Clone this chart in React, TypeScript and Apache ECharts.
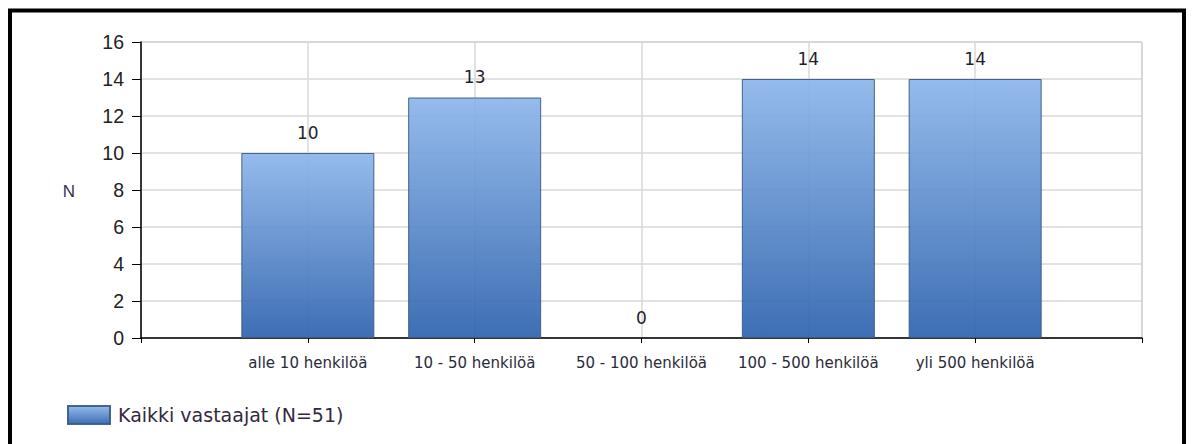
import React, { useEffect, useRef } from "react";
import * as echarts from "echarts";

const categories = ["", "alle 10 henkilöä", "10 - 50 henkilöä", "50 - 100 henkilöä", "100 - 500 henkilöä", "yli 500 henkilöä", ""];
const values: (number | null)[] = [null, 10, 13, 0, 14, 14, null];
const seriesName = "Kaikki vastaajat (N=51)";
const yAxisTitle = "N";

export default function App() {
  const ref = useRef<HTMLDivElement>(null);
  useEffect(() => {
    if (!ref.current) return;
    const chart = echarts.init(ref.current, undefined, { renderer: "svg" });
    const grad = new echarts.graphic.LinearGradient(0, 0, 0, 1, [
      { offset: 0, color: "#8db6ea" },
      { offset: 1, color: "#2f63ae" },
    ]);
    const barData = values.map((v) =>
      v === 0 ? { value: v, itemStyle: { borderWidth: 0, opacity: 0 } } : v
    );
    chart.setOption({
      animation: false,
      backgroundColor: "#ffffff",
      grid: {
        left: 141,
        right: 50,
        top: 42,
        bottom: 106,
        show: true,
        borderColor: "#a3b0c2",
        borderWidth: 1,
      },
      legend: {
        left: 62,
        top: 400,
        icon: "rect",
        itemWidth: 42,
        itemHeight: 18,
        itemGap: 8,
        textStyle: {
          fontFamily: "DejaVu Sans",
          fontSize: 19,
          color: "#33293f",
          padding: [0, 0, 0, 3],
        },
        data: [seriesName],
      },
      graphic: [
        {
          type: "rect",
          shape: { x: 10, y: 10.5, width: 1174, height: 520 },
          style: { fill: "none", stroke: "#000000", lineWidth: 4 },
          silent: true,
        },
        {
          type: "text",
          x: 69,
          y: 191,
          style: {
            text: yAxisTitle,
            fontFamily: "Liberation Sans",
            fontSize: 17,
            fill: "#3a2d5a",
            align: "center",
            verticalAlign: "middle",
          },
        },
      ],
      xAxis: {
        type: "category",
        data: categories,
        boundaryGap: false,
        axisLine: { show: true, lineStyle: { color: "#000000", width: 1.5 } },
        axisTick: { show: true, length: 5, lineStyle: { color: "#000000" } },
        axisLabel: {
          margin: 17,
          fontFamily: "DejaVu Sans",
          fontSize: 15,
          color: "#2b2b3a",
          interval: 0,
        },
        splitLine: { show: true, lineStyle: { color: "#d9d9d9", width: 1.5 } },
      },
      yAxis: {
        type: "value",
        min: 0,
        max: 16,
        interval: 2,
        axisLine: { show: true, lineStyle: { color: "#000000", width: 1.5 } },
        axisTick: { show: true, length: 9, lineStyle: { color: "#000000" } },
        axisLabel: {
          margin: 17,
          fontFamily: "Liberation Sans",
          fontSize: 19.5,
          color: "#222222",
        },
        splitLine: { show: true, lineStyle: { color: "#d9d9d9", width: 1.5 } },
      },
      series: [
        {
          type: "bar",
          name: seriesName,
          data: barData,
          barWidth: 133,
          itemStyle: {
            color: grad,
            borderColor: "#3b5a86",
            borderWidth: 1,
            opacity: 0.93,
          },
          label: {
            show: true,
            position: "top",
            distance: 12,
            fontFamily: "DejaVu Sans",
            fontSize: 17,
            color: "#1e1e2e",
            opacity: 1,
          },
        },
      ],
    });
    return () => chart.dispose();
  }, []);
  return (
    <div
      ref={ref}
      style={{ position: "fixed", left: 0, top: 0, width: 1192, height: 444 }}
    />
  );
}
